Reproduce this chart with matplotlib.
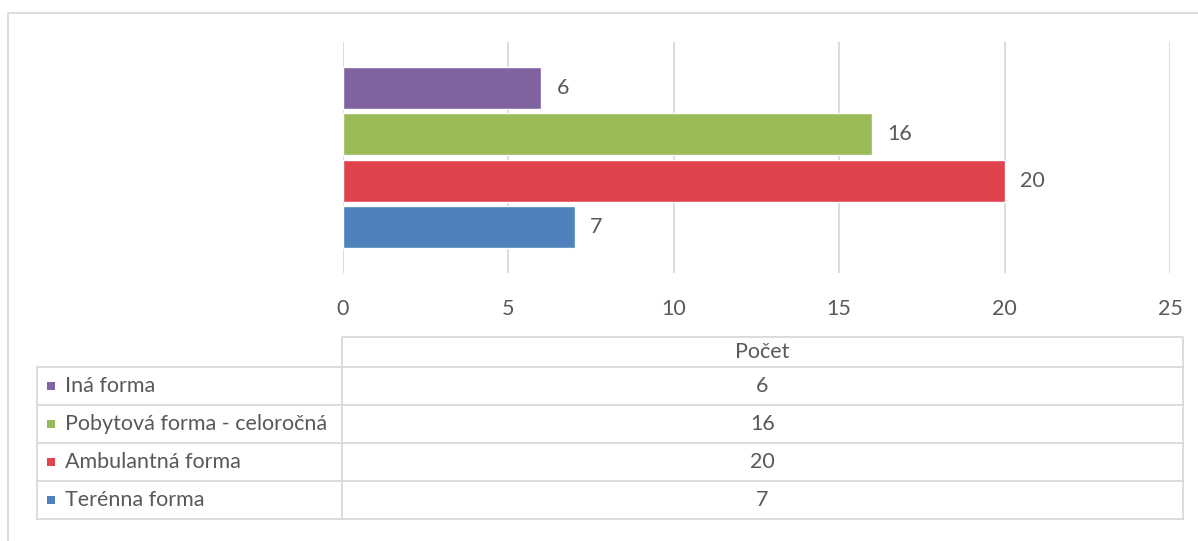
import matplotlib
matplotlib.use("Agg")
import matplotlib.pyplot as plt
from matplotlib.patches import Rectangle
from matplotlib.lines import Line2D

categories = ["Terénna forma", "Ambulantná forma", "Pobytová forma - celoročná", "Iná forma"]
values = [7, 20, 16, 6]
colors = ["#4F81BD", "#DF434C", "#9BBB59", "#8064A2"]
series_name = "Počet"
xticks = [0, 5, 10, 15, 20, 25]

TXT = "#595959"
GRID = "#D9D9D9"
FS = 15.5
plt.rcParams["font.family"] = ["Lato", "DejaVu Sans"]

W, H = 1198, 541
fig = plt.figure(figsize=(W / 100, H / 100), dpi=100)

# overlay axes in pixel coordinates for border and table
ov = fig.add_axes([0, 0, 1, 1])
ov.set_xlim(0, W)
ov.set_ylim(H, 0)
ov.axis("off")

# outer border (left and top)
ov.add_line(Line2D([8, 8, W], [H, 12.5, 12.5], color=GRID, lw=1.3))

# chart axes
x0, x1 = 343, 1170
y0, y1 = 42, 273
ax = fig.add_axes([x0 / W, 1 - y1 / H, (x1 - x0) / W, (y1 - y0) / H])
ax.set_zorder(2)
ax.patch.set_alpha(0)
ypos = list(range(len(values)))
ax.barh(ypos, values, height=0.91, color=colors, edgecolor="white", linewidth=1.0, zorder=3)
ax.set_xlim(0, 25)
ax.set_ylim(-1, len(values))
ax.set_xticks(xticks)
ax.set_yticks([])
ax.grid(axis="x", color=GRID, linewidth=1.3, zorder=0)
for s in ax.spines.values():
    s.set_visible(False)
ax.tick_params(axis="x", length=0, pad=19, labelsize=FS, labelcolor=TXT)
for y, v in zip(ypos, values):
    ax.annotate(str(v), (v, y), xytext=(11, 0), textcoords="offset points",
                va="center", ha="left", fontsize=FS, color=TXT)

# data table
tl, tm, tr = 37, 342, 1183
htop, rtop, rh = 337, 367, 38
n = len(values)
bottom = rtop + n * rh
lw_t = 1.3
# header box
ov.add_line(Line2D([tm, tm, tr, tr], [rtop, htop, htop, rtop], color=GRID, lw=lw_t))
ov.text((tm + tr) / 2, (htop + rtop) / 2, series_name, ha="center", va="center",
        fontsize=FS, color=TXT)
# row lines
for i in range(n + 1):
    yy = rtop + i * rh
    ov.add_line(Line2D([tl, tr], [yy, yy], color=GRID, lw=lw_t))
for xx in (tl, tm, tr):
    ov.add_line(Line2D([xx, xx], [rtop, bottom], color=GRID, lw=lw_t))
# rows top-to-bottom: reversed order
for i, idx in enumerate(reversed(range(n))):
    yc = rtop + i * rh + rh / 2
    ov.add_patch(Rectangle((47, yc - 4), 8, 8, color=colors[idx], lw=0))
    ov.text(65, yc, categories[idx], ha="left", va="center", fontsize=FS, color=TXT)
    ov.text((tm + tr) / 2, yc, str(values[idx]), ha="center", va="center",
            fontsize=FS, color=TXT)

fig.savefig("out.png", dpi=100)
